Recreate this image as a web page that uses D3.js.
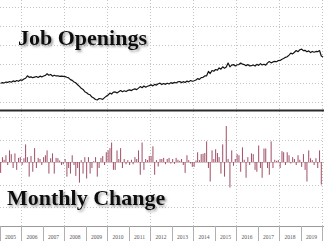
<!DOCTYPE html>
<html>
<head>
<meta charset="utf-8">
<script src="https://cdn.jsdelivr.net/npm/d3@7"></script>
<style>
html, body { margin: 0; padding: 0; background: #fff; }
svg { display: block; }
</style>
</head>
<body>
<svg id="chart" width="324" height="241"></svg>
<script>
// job openings, millions, monthly from Jan 2005 (last point Jan 2020)
const openings = [
    3.97, 4.04, 4.00, 4.10, 4.06, 4.16, 4.08, 4.22, 4.14, 4.26, 4.18, 4.32,
    4.28, 4.42, 4.50, 4.76, 4.60, 4.64, 4.56, 4.62, 4.68, 4.58, 4.72, 4.64,
    4.74, 4.80, 4.97, 4.82, 4.90, 4.72, 4.82, 4.74, 4.76, 4.70, 4.72, 4.70,
    4.67, 4.60, 4.54, 4.36, 4.28, 4.10, 4.02, 3.82, 3.64, 3.44, 3.32, 3.08,
    2.98, 2.82, 2.76, 2.52, 2.42, 2.26, 2.22, 2.36, 2.34, 2.28, 2.46, 2.60,
    2.74, 2.94, 2.84, 3.04, 3.06, 2.96, 3.08, 3.20, 3.08, 3.18, 3.10, 3.22,
    3.28, 3.20, 3.32, 3.38, 3.30, 3.46, 3.62, 3.50, 3.68, 3.56, 3.66, 3.72,
    3.80, 3.70, 3.86, 3.78, 3.92, 3.98, 3.84, 3.94, 3.86, 3.98, 3.90, 4.04,
    3.96, 4.08, 4.00, 4.12, 4.16, 4.04, 4.14, 4.06, 4.20, 4.12, 4.26, 4.18,
    4.24, 4.32, 4.46, 4.38, 4.56, 4.60, 4.74, 4.76, 5.22, 5.00, 5.32, 5.24,
    5.42, 5.36, 5.58, 5.46, 5.70, 5.56, 5.68, 6.10, 5.70, 5.88, 5.94, 5.80,
    5.92, 5.94, 6.10, 5.98, 5.94, 5.82, 5.94, 5.80, 5.82, 5.90, 5.78, 5.96,
    5.86, 6.04, 5.90, 5.98, 5.88, 6.12, 6.26, 6.12, 6.22, 6.28, 6.24, 6.36,
    6.38, 6.50, 6.58, 6.70, 6.76, 6.94, 7.14, 7.06, 7.24, 7.42, 7.30, 7.50,
    7.57, 7.40, 7.44, 7.28, 7.38, 7.20, 7.32, 7.24, 7.32, 7.30, 7.42, 6.84,
    6.74
];
// monthly change, thousands, Jan 2005 - Dec 2019
const monthly_change = [
    -145, 65, 30, 90, -40, 155, 105, -80, 115, -105, 55, 65,
    -40, 50, 235, 65, -195, 80, -130, 185, -80, 55, 40, -40,
    65, 90, 155, -155, 50, 115, -155, 55, 50, 20, -40, -30,
    40, -195, -80, -155, 90, -40, -185, -80, -275, 25, -155, 65,
    -220, 65, -155, -80, 10, 65, -195, -80, 55, 80, -40, 130,
    155, 185, 260, -105, -105, 155, 40, 185, -80, 40, -30, 25,
    -40, 30, -30, 65, 40, 155, -170, 260, -105, 40, 25, 80,
    80, 210, -170, 25, -60, 40, 40, 55, -30, 40, 55, -20,
    40, -25, 55, 30, 15, 40, -40, -145, 90, 25, -20, -65,
    -65, 20, 130, 25, 105, 110, 120, 275, -80, -260, 155, 40,
    170, 120, 65, -155, 235, -195, 480, 40, -340, 155, -50, 40,
    105, 90, -130, 195, 30, -210, 65, -40, 115, 105, -105, -130,
    220, -80, -210, 180, 180, -80, -170, 275, -80, 30, 15, 25,
    -80, 145, 130, -40, 130, 90, -20, 65, 40, -40, 90, 30,
    -65, 105, -105, -260, 155, 50, 25, -40, 50, -80, 155, -300
];
const year_labels = ["2005", "2006", "2007", "2008", "2009", "2010", "2011", "2012",
    "2013", "2014", "2015", "2016", "2017", "2018", "2019"];
const grid_years = [2006, 2008, 2010, 2012, 2014, 2016, 2018, 2020];
const top_grid_values = [2, 4, 6, 8, 10, 12];
const bottom_grid_values = [-600, -300, 0, 300, 600];
const titles = ["Job Openings", "Monthly Change"];

const SVG = d3.select('#chart');
const SVG_WIDTH = 324;
const SVG_HEIGHT = 241;
const START_YEAR = 2005;

const X_SCALE = d3.scaleTime()
    .domain([new Date(START_YEAR, 0, 1), new Date(2020, 0, 1)])
    .range([-0.2, 322.3]);
const Y_TOP = d3.scaleLinear().domain([2, 12]).range([102, 7]); //top panel
const Y_BOTTOM = d3.scaleLinear().domain([-600, 600]).range([207, 117]); //bottom panel

const AXIS_Y = 226; //date axis line
const DIVIDER_Y = 110.5; //thick line between the panels
const GRID_COR = "#c4c4c4";
const LINE_COR = "#141414";
const BAR_FILL = "#a3586c";
const BAR_W = 1.05;
const TITLE_SIZE = 22;

function month_date(i) {
    return new Date(START_YEAR, i, 15);
}

/** shadow behind the big titles **/
function make_shadow() {
    let f = SVG.append("defs").append("filter")
        .attr("id", "shadow")
        .attr("x", "-10%").attr("y", "-30%")
        .attr("width", "120%").attr("height", "160%");
    f.append("feDropShadow")
        .attr("dx", 1.6)
        .attr("dy", 1.8)
        .attr("stdDeviation", 1.1)
        .attr("flood-color", "#555")
        .attr("flood-opacity", 0.6);
}

/** dotted grid **/
function draw_grid() {
    let g = SVG.append("g");
    for (let yr of grid_years) {
        let x = Math.round(X_SCALE(new Date(yr, 0, 1))) + 0.5;
        g.append("line")
            .attr("x1", x).attr("x2", x)
            .attr("y1", 0).attr("y2", AXIS_Y)
            .attr("stroke", GRID_COR)
            .attr("stroke-dasharray", "1,2");
    }
    for (let v of top_grid_values) {
        let y = Math.round(Y_TOP(v)) + 0.5;
        g.append("line")
            .attr("x1", 0).attr("x2", SVG_WIDTH)
            .attr("y1", y).attr("y2", y)
            .attr("stroke", GRID_COR)
            .attr("stroke-dasharray", "1,2");
    }
    for (let v of bottom_grid_values) {
        let y = Math.round(Y_BOTTOM(v)) + 0.5;
        g.append("line")
            .attr("x1", 0).attr("x2", SVG_WIDTH)
            .attr("y1", y).attr("y2", y)
            .attr("stroke", v === 0 ? "#dcbcc4" : GRID_COR)
            .attr("stroke-dasharray", v === 0 ? null : "1,2");
    }
}

/** job openings line **/
function draw_level_line() {
    let line = d3.line()
        .x((d, i) => X_SCALE(month_date(i)))
        .y(d => Y_TOP(d));
    SVG.append("path")
        .datum(openings)
        .attr("d", line)
        .attr("fill", "none")
        .attr("stroke", LINE_COR)
        .attr("stroke-width", 1.2)
        .attr("stroke-linejoin", "round");
    SVG.append("line")
        .attr("x1", 0).attr("x2", SVG_WIDTH)
        .attr("y1", DIVIDER_Y).attr("y2", DIVIDER_Y)
        .attr("stroke", "#2a2a2a")
        .attr("stroke-width", 2);
}

/** monthly change bars **/
function draw_change_bars() {
    let y0 = Y_BOTTOM(0);
    SVG.append("g")
        .selectAll("rect")
        .data(monthly_change)
        .join("rect")
        .attr("x", (d, i) => X_SCALE(month_date(i)) - BAR_W / 2)
        .attr("y", d => Math.min(y0, Y_BOTTOM(d)))
        .attr("width", BAR_W)
        .attr("height", d => Math.abs(Y_BOTTOM(d) - y0))
        .attr("fill", BAR_FILL);
}

/** year axis at the bottom **/
function draw_axis() {
    let g = SVG.append("g");
    g.append("line")
        .attr("x1", 0).attr("x2", SVG_WIDTH)
        .attr("y1", AXIS_Y + 0.5).attr("y2", AXIS_Y + 0.5)
        .attr("stroke", "#9a9a9a");
    for (let k = 0; k <= year_labels.length; k++) {
        let x = Math.round(X_SCALE(new Date(START_YEAR + k, 0, 1))) + 0.5;
        g.append("line")
            .attr("x1", x).attr("x2", x)
            .attr("y1", AXIS_Y).attr("y2", SVG_HEIGHT)
            .attr("stroke", "#b0b0b0");
    }
    year_labels.forEach((label, k) => {
        let x1 = X_SCALE(new Date(START_YEAR + k, 0, 1));
        let x2 = X_SCALE(new Date(START_YEAR + k + 1, 0, 1));
        g.append("text")
            .text(label)
            .attr("x", (x1 + x2) / 2)
            .attr("y", 238.5)
            .attr("text-anchor", "middle")
            .attr("font-family", "Liberation Serif, serif")
            .attr("font-size", 7)
            .attr("textLength", 11)
            .attr("lengthAdjust", "spacingAndGlyphs")
            .attr("fill", "#555");
    });
}

/** big serif titles **/
function draw_titles() {
    let pos = [[18, 45], [7, 205]];
    titles.forEach((t, k) => {
        SVG.append("text")
            .text(t)
            .attr("x", pos[k][0])
            .attr("y", pos[k][1])
            .attr("font-family", "Liberation Serif, Times New Roman, serif")
            .attr("font-weight", "bold")
            .attr("font-size", TITLE_SIZE)
            .attr("fill", "#111")
            .attr("filter", "url(#shadow)");
    });
}

make_shadow();
draw_grid();
draw_level_line();
draw_change_bars();
draw_axis();
draw_titles();
</script>
</body>
</html>
